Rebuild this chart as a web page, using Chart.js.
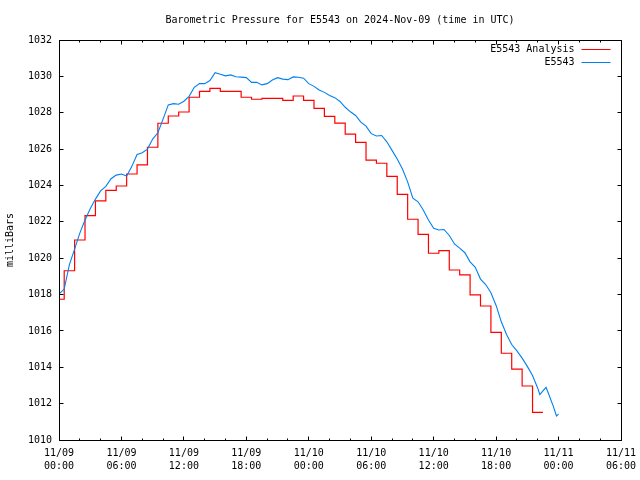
<!DOCTYPE html>
<html lang="en">
<head>
<meta charset="utf-8">
<title>Barometric Pressure for E5543</title>
<script src="https://cdn.jsdelivr.net/npm/chart.js"></script>
<style>
  html, body { margin: 0; padding: 0; background: #fff; }
  #wrap { width: 640px; height: 480px; }
</style>
</head>
<body>
<div id="wrap"><canvas id="grafico"></canvas></div>
<script>
// time axis: hours since 2024-11-09 00:00 UTC
const analysisHours = [0,1,2,3,4,5,6,7,8,9,10,11,12,13,14,15,16,17,18,19,20,21,22,23,
  24,25,26,27,28,29,30,31,32,33,34,35,36,37,38,39,40,41,42,43,44,45,46];
const analysisValues = [1017.74,1019.31,1021.00,1022.34,1023.15,1023.73,1023.97,1024.63,
  1025.13,1026.10,1027.42,1027.82,1028.04,1028.85,1029.17,1029.34,1029.17,1029.17,
  1028.85,1028.74,1028.79,1028.79,1028.68,1028.92,1028.68,1028.24,1027.80,1027.43,
  1026.82,1026.37,1025.39,1025.22,1024.50,1023.51,1022.14,1021.31,1020.27,1020.42,
  1019.35,1019.08,1017.98,1017.37,1015.92,1014.77,1013.90,1012.97,1011.52];

const obsHours = [0,0.5,1,1.5,2,2.5,3,3.5,4,4.5,5,5.5,6,6.5,7,7.5,8,8.5,9,9.5,10,10.5,
  11,11.5,12,12.5,13,13.5,14,14.5,15,15.5,16,16.5,17,17.5,18,18.5,19,19.5,20,20.5,
  21,21.5,22,22.5,23,23.5,24,24.5,25,25.5,26,26.5,27,27.5,28,28.5,29,29.5,30,30.5,
  31,31.5,32,32.5,33,33.5,34,34.5,35,35.5,36,36.5,37,37.5,38,38.5,39,39.5,40,40.5,
  41,41.5,42,42.5,43,43.5,44,44.5,45,45.5,46,46.2,46.5,46.8,47,47.5,47.8,48];
const obsValues = [1018.03,1018.30,1019.65,1020.50,1021.38,1022.10,1022.72,1023.25,
  1023.70,1023.95,1024.37,1024.57,1024.63,1024.52,1025.05,1025.70,1025.80,1026.00,
  1026.55,1026.90,1027.65,1028.43,1028.50,1028.47,1028.63,1028.90,1029.40,1029.60,
  1029.60,1029.77,1030.20,1030.12,1030.03,1030.08,1029.98,1029.96,1029.93,1029.67,
  1029.67,1029.53,1029.60,1029.80,1029.93,1029.85,1029.82,1029.97,1029.95,1029.90,
  1029.60,1029.45,1029.25,1029.12,1028.95,1028.83,1028.62,1028.30,1028.05,1027.85,
  1027.48,1027.26,1026.85,1026.72,1026.75,1026.40,1025.93,1025.45,1024.90,1024.20,
  1023.30,1023.10,1022.65,1022.10,1021.65,1021.55,1021.58,1021.25,1020.78,1020.55,
  1020.30,1019.80,1019.50,1018.85,1018.55,1018.10,1017.40,1016.50,1015.80,1015.25,
  1014.90,1014.50,1014.05,1013.55,1012.85,1012.50,1012.70,1012.90,1012.60,1011.85,
  1011.32,1011.42];

const xTicks = [0,6,12,18,24,30,36,42,48,54];
const xTickLabels = [['11/09','00:00'],['11/09','06:00'],['11/09','12:00'],['11/09','18:00'],
  ['11/10','00:00'],['11/10','06:00'],['11/10','12:00'],['11/10','18:00'],
  ['11/11','00:00'],['11/11','06:00']];
const xMinorStep = 2;
const yTicks = [1010,1012,1014,1016,1018,1020,1022,1024,1026,1028,1030,1032];

const FONT = { family: '"DejaVu Sans Mono", "Liberation Mono", monospace', size: 10 };
const RED = '#ff0000';
const BLUE = 'rgb(0,128,240)';

// gnuplot-like frame with inward ticks on all four sides
const frame = {
  id: 'frame',
  afterDatasetsDraw(chart) {
    const c = chart.ctx, a = chart.chartArea;
    const xs = chart.scales.x, ys = chart.scales.y;
    const L = Math.floor(a.left) + 0.5, R = Math.floor(a.right) + 0.5;
    const T = Math.floor(a.top) + 0.5, B = Math.floor(a.bottom) + 0.5;
    c.save();
    c.strokeStyle = '#000';
    c.lineWidth = 1;
    c.beginPath();
    for (let h = xs.min; h <= xs.max; h += xMinorStep) {
      const px = Math.floor(xs.getPixelForValue(h)) + 0.5;
      const len = xTicks.includes(h) ? 4 : 2;
      c.moveTo(px, B); c.lineTo(px, B - len);
      c.moveTo(px, T); c.lineTo(px, T + len);
    }
    yTicks.forEach(v => {
      const py = Math.floor(ys.getPixelForValue(v)) + 0.5;
      c.moveTo(L, py); c.lineTo(L + 4, py);
      c.moveTo(R, py); c.lineTo(R - 4, py);
    });
    c.stroke();
    c.strokeRect(L, T, R - L, B - T);

    // legend, top right inside the plot
    c.font = FONT.size + 'px ' + FONT.family;
    c.fillStyle = '#000';
    c.textAlign = 'right';
    c.textBaseline = 'middle';
    const rows = [['E5543 Analysis', RED], ['E5543', BLUE]];
    rows.forEach((r, i) => {
      const y = T + 9 + i * 13;
      c.fillText(r[0], R - 47, y);
      c.strokeStyle = r[1];
      c.beginPath();
      c.moveTo(R - 40, y); c.lineTo(R - 11, y);
      c.stroke();
    });
    c.restore();
  }
};

const analysisData = analysisHours.map((h, i) => ({ x: h, y: analysisValues[i] }));
// extend the last step half an hour, like gnuplot histeps
analysisData.push({ x: analysisHours[analysisHours.length - 1] + 0.5, y: analysisValues[analysisValues.length - 1] });

new Chart(document.getElementById('grafico'), {
  type: 'line',
  data: {
    datasets: [{
      label: 'E5543 Analysis',
      data: analysisData,
      borderColor: RED,
      borderWidth: 1.2,
      pointRadius: 0,
      stepped: 'middle',
      order: 1
    }, {
      label: 'E5543',
      data: obsHours.map((h, i) => ({ x: h, y: obsValues[i] })),
      borderColor: BLUE,
      borderWidth: 1.1,
      pointRadius: 0,
      tension: 0,
      order: 0
    }]
  },
  options: {
    responsive: true,
    maintainAspectRatio: false,
    animation: false,
    layout: { padding: { left: 0, right: 19, top: 0, bottom: 0 } },
    plugins: {
      legend: { display: false },
      tooltip: { enabled: false },
      title: {
        display: true,
        fullSize: false,
        text: 'Barometric Pressure for E5543 on 2024-Nov-09 (time in UTC)',
        color: '#000',
        font: { family: FONT.family, size: 10, weight: 'normal', lineHeight: 1.2 },
        padding: { top: 14, bottom: 14 }
      }
    },
    scales: {
      x: {
        type: 'linear',
        min: 0,
        max: 54,
        afterBuildTicks: s => { s.ticks = xTicks.map(v => ({ value: v })); },
        afterFit: s => { s.height = 40; s.paddingLeft = 0; s.paddingRight = 0; },
        grid: { display: false, drawTicks: false },
        border: { display: false },
        ticks: {
          color: '#000',
          font: { family: FONT.family, size: 10, lineHeight: 1.3 },
          padding: 7,
          maxRotation: 0,
          autoSkip: false,
          callback: (v, i) => xTickLabels[i]
        }
      },
      y: {
        min: 1010,
        max: 1032,
        afterBuildTicks: s => { s.ticks = yTicks.map(v => ({ value: v })); },
        afterFit: s => { s.width = 59; s.paddingTop = 0; s.paddingBottom = 0; },
        grid: { display: false, drawTicks: false },
        border: { display: false },
        title: {
          display: true,
          text: 'milliBars',
          color: '#000',
          font: { family: FONT.family, size: 10, lineHeight: 1.2 },
          padding: { top: 4, bottom: 4 }
        },
        ticks: {
          color: '#000',
          font: FONT,
          padding: 7,
          callback: v => v
        }
      }
    }
  },
  plugins: [frame]
});
</script>
</body>
</html>
